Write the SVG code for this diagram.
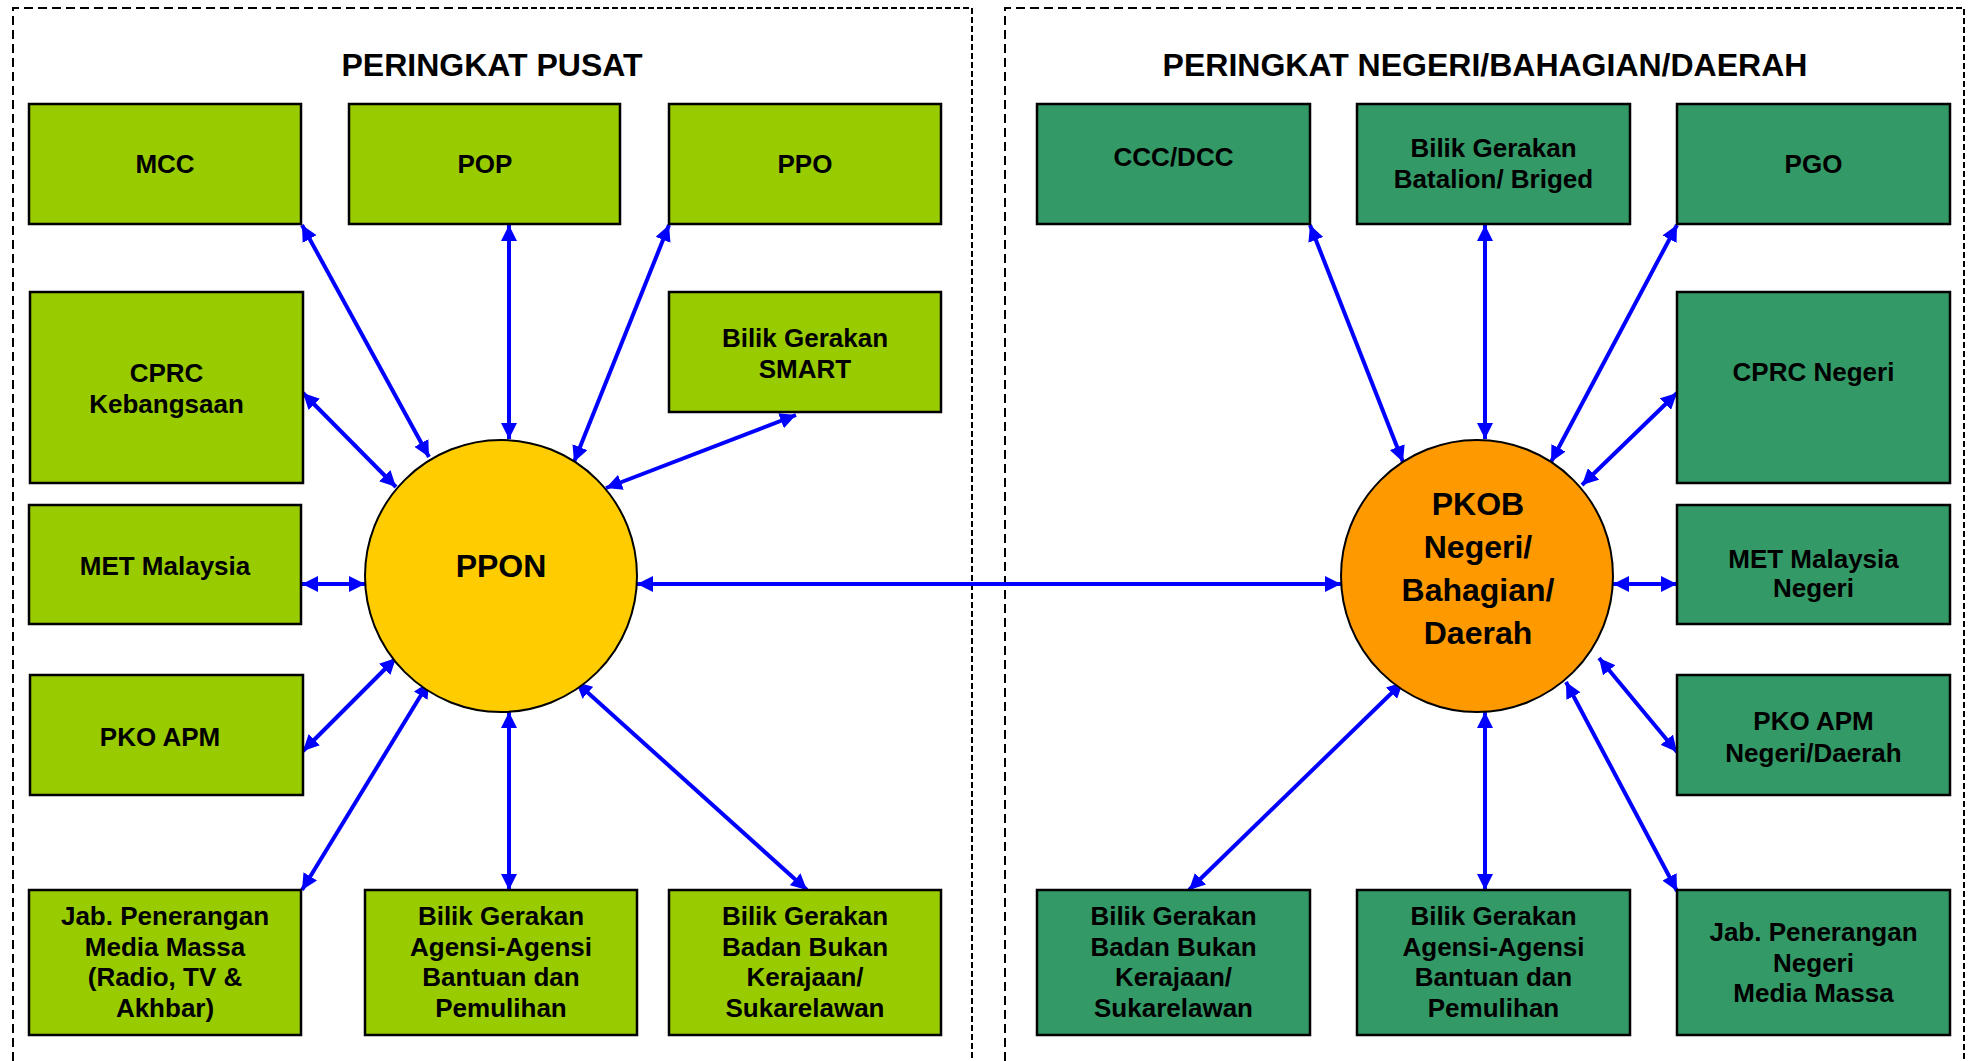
<svg xmlns="http://www.w3.org/2000/svg" width="1969" height="1061" viewBox="0 0 1969 1061">
<defs>
<style>
.panel{fill:none;stroke:#000;stroke-width:2}
.dl{stroke-dasharray:9 5}
.df{stroke-dasharray:6 3}
.title{font-family:"Liberation Sans",Arial,sans-serif;font-weight:bold;font-size:32px;fill:#000;text-anchor:middle}
.bl{fill:#99CC00;stroke:#000;stroke-width:2.5}
.br{fill:#339966;stroke:#000;stroke-width:2.5}
.t{font-family:"Liberation Sans",Arial,sans-serif;font-weight:bold;font-size:26px;fill:#000;text-anchor:middle}
.ct{font-family:"Liberation Sans",Arial,sans-serif;font-weight:bold;font-size:32px;fill:#000;text-anchor:middle}
.c{stroke:#0000FF;stroke-width:4;fill:none;marker-start:url(#ah);marker-end:url(#ah)}
</style>
<marker id="ah" viewBox="0 0 16 16" refX="16" refY="8" markerWidth="16" markerHeight="16" markerUnits="userSpaceOnUse" orient="auto-start-reverse">
<path d="M0,0 L16,8 L0,16 z" fill="#0000FF"/>
</marker>
</defs>
<rect x="0" y="0" width="1969" height="1061" fill="#fff"/>

<g id="panels">
<path class="panel dl" d="M13,1061 V8 H477"/>
<path class="panel df" d="M477,8 H972"/>
<path class="panel df" d="M972,8 V1061"/>
<path class="panel dl" d="M1005,1061 V8 H1461"/>
<path class="panel df" d="M1461,8 H1964 V1061"/>
<text class="title" x="492" y="76">PERINGKAT PUSAT</text>
<text class="title" x="1485" y="76">PERINGKAT NEGERI/BAHAGIAN/DAERAH</text>
</g>

<g id="connectors">
<line class="c" x1="302" y1="225" x2="429" y2="457"/>
<line class="c" x1="509" y1="225" x2="509" y2="439"/>
<line class="c" x1="669" y1="225" x2="574" y2="462"/>
<line class="c" x1="796" y1="415" x2="606" y2="488"/>
<line class="c" x1="303" y1="393" x2="396" y2="487"/>
<line class="c" x1="302" y1="584" x2="365" y2="584"/>
<line class="c" x1="303" y1="751" x2="396" y2="658"/>
<line class="c" x1="302" y1="890" x2="429" y2="682"/>
<line class="c" x1="509" y1="712" x2="509" y2="890"/>
<line class="c" x1="807" y1="890" x2="576" y2="682"/>
<line class="c" x1="637" y1="584" x2="1341" y2="584"/>
<line class="c" x1="1310" y1="225" x2="1403" y2="462"/>
<line class="c" x1="1485" y1="225" x2="1485" y2="439"/>
<line class="c" x1="1677" y1="225" x2="1551" y2="462"/>
<line class="c" x1="1677" y1="393" x2="1582" y2="485"/>
<line class="c" x1="1613" y1="584" x2="1677" y2="584"/>
<line class="c" x1="1599" y1="658" x2="1677" y2="752"/>
<line class="c" x1="1566" y1="682" x2="1677" y2="891"/>
<line class="c" x1="1485" y1="712" x2="1485" y2="890"/>
<line class="c" x1="1403" y1="682" x2="1189" y2="890"/>
</g>

<g id="ppon">
<circle cx="501" cy="576" r="136" fill="#FFCC00" stroke="#000" stroke-width="2"/>
<text class="ct" x="501" y="577">PPON</text>
</g>
<g id="pkob">
<circle cx="1477" cy="576" r="136" fill="#FF9900" stroke="#000" stroke-width="2"/>
<text class="ct" x="1478" y="515">PKOB</text>
<text class="ct" x="1478" y="558">Negeri/</text>
<text class="ct" x="1478" y="601">Bahagian/</text>
<text class="ct" x="1478" y="644">Daerah</text>
</g>

<g id="mcc"><rect class="bl" x="29" y="104" width="272" height="120"/><text class="t" x="165" y="173">MCC</text></g>
<g id="pop"><rect class="bl" x="349" y="104" width="271" height="120"/><text class="t" x="485" y="173">POP</text></g>
<g id="ppo"><rect class="bl" x="669" y="104" width="272" height="120"/><text class="t" x="805" y="173">PPO</text></g>
<g id="cprc-kebangsaan"><rect class="bl" x="30" y="292" width="273" height="191"/><text class="t" x="166.5" y="382">CPRC</text><text class="t" x="166.5" y="413">Kebangsaan</text></g>
<g id="bg-smart"><rect class="bl" x="669" y="292" width="272" height="120"/><text class="t" x="805" y="347">Bilik Gerakan</text><text class="t" x="805" y="378">SMART</text></g>
<g id="met"><rect class="bl" x="29" y="505" width="272" height="119"/><text class="t" x="165" y="575">MET Malaysia</text></g>
<g id="pko-apm"><rect class="bl" x="30" y="675" width="273" height="120"/><text class="t" x="160" y="746">PKO APM</text></g>
<g id="jab-penerangan"><rect class="bl" x="29" y="890" width="272" height="145"/><text class="t" x="165" y="925">Jab. Penerangan</text><text class="t" x="165" y="955.5">Media Massa</text><text class="t" x="165" y="986">(Radio, TV &amp;</text><text class="t" x="165" y="1016.5">Akhbar)</text></g>
<g id="bg-agensi"><rect class="bl" x="365" y="890" width="272" height="145"/><text class="t" x="501" y="925">Bilik Gerakan</text><text class="t" x="501" y="955.5">Agensi-Agensi</text><text class="t" x="501" y="986">Bantuan dan</text><text class="t" x="501" y="1016.5">Pemulihan</text></g>
<g id="bg-ngo"><rect class="bl" x="669" y="890" width="272" height="145"/><text class="t" x="805" y="925">Bilik Gerakan</text><text class="t" x="805" y="955.5">Badan Bukan</text><text class="t" x="805" y="986">Kerajaan/</text><text class="t" x="805" y="1016.5">Sukarelawan</text></g>

<g id="ccc-dcc"><rect class="br" x="1037" y="104" width="273" height="120"/><text class="t" x="1173.5" y="166">CCC/DCC</text></g>
<g id="bg-batalion"><rect class="br" x="1357" y="104" width="273" height="120"/><text class="t" x="1493.5" y="157">Bilik Gerakan</text><text class="t" x="1493.5" y="188">Batalion/ Briged</text></g>
<g id="pgo"><rect class="br" x="1677" y="104" width="273" height="120"/><text class="t" x="1813.5" y="173">PGO</text></g>
<g id="cprc-negeri"><rect class="br" x="1677" y="292" width="273" height="191"/><text class="t" x="1813.5" y="381">CPRC Negeri</text></g>
<g id="met-negeri"><rect class="br" x="1677" y="505" width="273" height="119"/><text class="t" x="1813.5" y="568">MET Malaysia</text><text class="t" x="1813.5" y="597">Negeri</text></g>
<g id="pko-apm-negeri"><rect class="br" x="1677" y="675" width="273" height="120"/><text class="t" x="1813.5" y="730">PKO APM</text><text class="t" x="1813.5" y="762">Negeri/Daerah</text></g>
<g id="jab-negeri"><rect class="br" x="1677" y="890" width="273" height="145"/><text class="t" x="1813.5" y="941">Jab. Penerangan</text><text class="t" x="1813.5" y="971.5">Negeri</text><text class="t" x="1813.5" y="1002">Media Massa</text></g>
<g id="bg-agensi-negeri"><rect class="br" x="1357" y="890" width="273" height="145"/><text class="t" x="1493.5" y="925">Bilik Gerakan</text><text class="t" x="1493.5" y="955.5">Agensi-Agensi</text><text class="t" x="1493.5" y="986">Bantuan dan</text><text class="t" x="1493.5" y="1016.5">Pemulihan</text></g>
<g id="bg-ngo-negeri"><rect class="br" x="1037" y="890" width="273" height="145"/><text class="t" x="1173.5" y="925">Bilik Gerakan</text><text class="t" x="1173.5" y="955.5">Badan Bukan</text><text class="t" x="1173.5" y="986">Kerajaan/</text><text class="t" x="1173.5" y="1016.5">Sukarelawan</text></g>
</svg>
